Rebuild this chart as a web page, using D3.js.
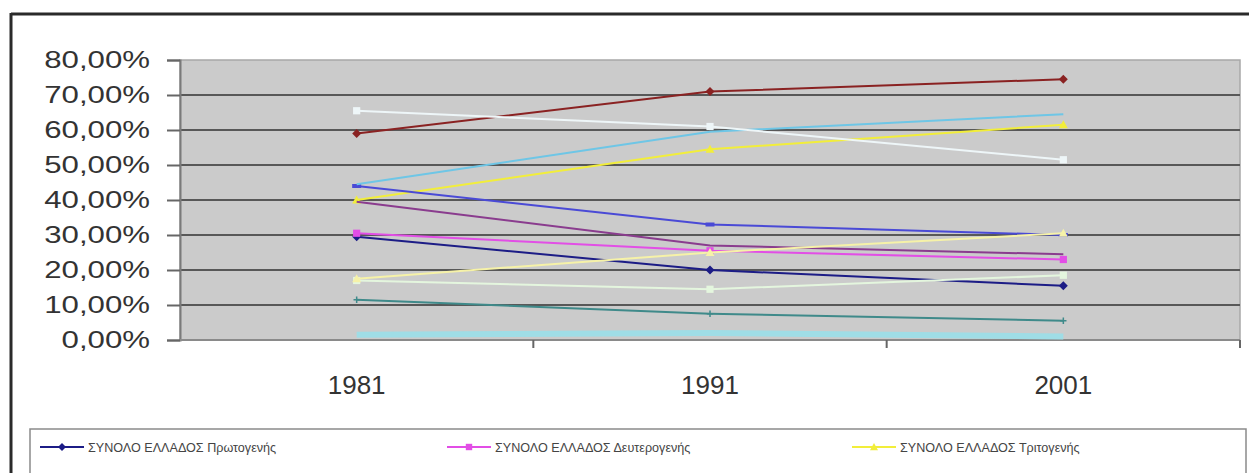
<!DOCTYPE html>
<html>
<head>
<meta charset="utf-8">
<script src="https://cdn.jsdelivr.net/npm/d3@7/dist/d3.min.js"></script>
<style>
  html, body { margin: 0; padding: 0; background: #ffffff; }
  svg { display: block; }
  text { font-family: "Liberation Sans", Arial, sans-serif; }
</style>
</head>
<body>
<svg id="chart" width="1249" height="473"></svg>
<script>
// ---- data ----
const years = ["1981", "1991", "2001"];
const yTicks = [0, 0.1, 0.2, 0.3, 0.4, 0.5, 0.6, 0.7, 0.8];

const seriesNames = [
  "ΣΥΝΟΛΟ ΕΛΛΑΔΟΣ Πρωτογενής",
  "ΣΥΝΟΛΟ ΕΛΛΑΔΟΣ Δευτερογενής",
  "ΣΥΝΟΛΟ ΕΛΛΑΔΟΣ Τριτογενής",
  "Σειρά 4", "Σειρά 5", "Σειρά 6", "Σειρά 7", "Σειρά 8", "Σειρά 9",
  "Σειρά 10", "Σειρά 11", "Σειρά 12"
];
const s1  = [0.295, 0.200, 0.155];
const s2  = [0.305, 0.255, 0.230];
const s3  = [0.400, 0.545, 0.615];
const s4  = [0.015, 0.020, 0.010];
const s5  = [0.395, 0.270, 0.245];
const s6  = [0.590, 0.710, 0.745];
const s7  = [0.115, 0.075, 0.055];
const s8  = [0.440, 0.330, 0.300];
const s9  = [0.445, 0.595, 0.645];
const s10 = [0.655, 0.610, 0.515];
const s11 = [0.170, 0.145, 0.185];
const s12 = [0.175, 0.250, 0.305];
const seriesValues = [s1, s2, s3, s4, s5, s6, s7, s8, s9, s10, s11, s12];
const seriesColors = ["#1c1c86", "#e24ee6", "#f2ee3a", "#9fdde6", "#8a3c8e", "#8a2222",
                      "#3f8a8a", "#4a4ad6", "#6ec6e6", "#eef6f8", "#e4f6de", "#f6f2a8"];
const seriesMarkers = ["diamond", "square", "triangle", "none", "none", "diamond",
                       "plus", "dash", "none", "square", "square", "triangle"];
const legendShown = [0, 1, 2];

// ---- layout ----
const svg = d3.select("#chart");
const plot = { left: 180, right: 1240, top: 60, bottom: 340 };
const stretch = 1.3;

const x = d3.scaleBand().domain(years).range([plot.left, plot.right]).paddingInner(0).paddingOuter(0);
const y = d3.scaleLinear().domain([0, 0.8]).range([plot.bottom, plot.top]);
const locale = d3.formatLocale({ decimal: ",", thousands: ".", grouping: [3], currency: ["", "€"] });
const fmt = locale.format(".2%");

// outer chart border (top and left visible)
svg.append("line").attr("x1", 11).attr("x2", 1249).attr("y1", 14).attr("y2", 14)
  .attr("stroke", "#2a2a2a").attr("stroke-width", 3);
svg.append("line").attr("x1", 11).attr("x2", 11).attr("y1", 13).attr("y2", 473)
  .attr("stroke", "#2a2a2a").attr("stroke-width", 3);

// plot area
svg.append("rect").attr("x", plot.left).attr("y", plot.top)
  .attr("width", plot.right - plot.left).attr("height", plot.bottom - plot.top)
  .attr("fill", "#cbcbcb").attr("stroke", "#a8a8a8").attr("stroke-width", 1.5);

// gridlines
svg.append("g").selectAll("line").data(yTicks.filter(t => t > 0 && t < 0.8)).join("line")
  .attr("x1", plot.left).attr("x2", plot.right)
  .attr("y1", d => y(d)).attr("y2", d => y(d))
  .attr("stroke", "#585858").attr("stroke-width", 2.2);

// y axis
const yAxis = svg.append("g").attr("transform", `translate(${plot.left},0)`)
  .call(d3.axisLeft(y).tickValues(yTicks).tickSize(13).tickFormat(() => ""));
yAxis.select(".domain").attr("stroke", "#7a7a7a").attr("stroke-width", 2);
yAxis.selectAll(".tick line").attr("stroke", "#666").attr("stroke-width", 2);
svg.append("g").selectAll("g").data(yTicks).join("g")
  .attr("transform", d => `translate(150,${y(d) + 8}) scale(${stretch},1)`)
  .append("text").attr("text-anchor", "end").attr("font-size", 24).attr("fill", "#333")
  .text(d => fmt(d));

// x axis
const boundaries = years.map(yr => x(yr) + x.bandwidth());
const xAxisG = svg.append("g");
xAxisG.append("line").attr("x1", plot.left).attr("x2", plot.right)
  .attr("y1", plot.bottom).attr("y2", plot.bottom).attr("stroke", "#8a8a8a").attr("stroke-width", 2);
xAxisG.selectAll("line.tk").data(boundaries).join("line").attr("class", "tk")
  .attr("x1", d => d).attr("x2", d => d).attr("y1", plot.bottom).attr("y2", plot.bottom + 8)
  .attr("stroke", "#666").attr("stroke-width", 2);
xAxisG.selectAll("text").data(years).join("text")
  .attr("x", d => x(d) + x.bandwidth() / 2).attr("y", 394)
  .attr("text-anchor", "middle").attr("font-size", 26).attr("fill", "#333")
  .text(d => d);

// lines
const cx = yr => x(yr) + x.bandwidth() / 2;
const line = d3.line().x(d => cx(d.year)).y(d => y(d.v));

function drawMarker(g, type, color, px, py, s) {
  if (type === "none") return;
  if (type === "diamond") {
    g.append("path").attr("d", `M${px},${py - s}L${px + s},${py}L${px},${py + s}L${px - s},${py}Z`).attr("fill", color);
  } else if (type === "square") {
    g.append("rect").attr("x", px - s * 0.8).attr("y", py - s * 0.8).attr("width", s * 1.6).attr("height", s * 1.6).attr("fill", color);
  } else if (type === "triangle") {
    g.append("path").attr("d", `M${px},${py - s}L${px + s},${py + s * 0.8}L${px - s},${py + s * 0.8}Z`).attr("fill", color);
  } else if (type === "plus") {
    g.append("path").attr("d", `M${px - s * 0.7},${py}H${px + s * 0.7}M${px},${py - s * 0.7}V${py + s * 0.7}`).attr("stroke", color).attr("stroke-width", 1.5);
  } else if (type === "dash") {
    g.append("rect").attr("x", px - s).attr("y", py - 2).attr("width", s * 2).attr("height", 4).attr("fill", color);
  }
}

const linesG = svg.append("g");
seriesValues.forEach((vals, i) => {
  const pts = vals.map((v, j) => ({ year: years[j], v }));
  const g = linesG.append("g");
  g.append("path").datum(pts).attr("d", line).attr("fill", "none")
    .attr("stroke", seriesColors[i]).attr("stroke-width", i === 3 ? 6 : 2);
  pts.forEach(p => drawMarker(g, seriesMarkers[i], seriesColors[i], cx(p.year), y(p.v), 4.5));
});

// legend
svg.append("rect").attr("x", 30).attr("y", 429).attr("width", 1216).attr("height", 80)
  .attr("fill", "#ffffff").attr("stroke", "#8a8a8a").attr("stroke-width", 1.5);
const legendX = [40, 447, 852];
const legG = svg.append("g");
legendShown.forEach((si, k) => {
  const lx = legendX[k], ly = 447;
  const g = legG.append("g");
  g.append("line").attr("x1", lx).attr("x2", lx + 44).attr("y1", ly).attr("y2", ly)
    .attr("stroke", seriesColors[si]).attr("stroke-width", 2);
  drawMarker(g, seriesMarkers[si], seriesColors[si], lx + 22, ly, 4);
  g.append("text").attr("x", lx + 48).attr("y", ly + 5).attr("font-size", 12.6)
    .attr("fill", "#444").text(seriesNames[si]);
});
</script>
</body>
</html>
